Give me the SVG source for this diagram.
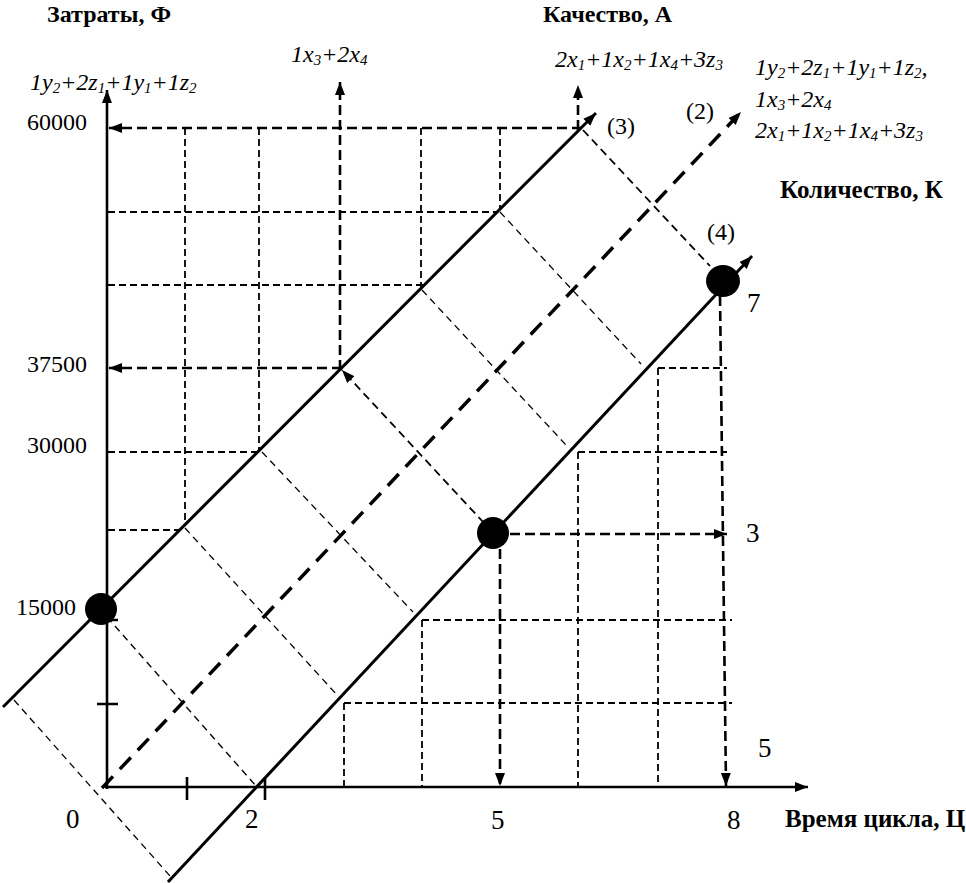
<svg xmlns="http://www.w3.org/2000/svg" width="966" height="883" viewBox="0 0 966 883">
<style>
text{font-family:"Liberation Serif","Times New Roman",serif;fill:#000}
.b{font-weight:bold;font-size:25px}
.bt{font-weight:bold;font-size:24px}
.n{font-size:24px}
.d{font-size:27px}
.p{font-size:24px}
.f{font-style:italic;font-size:24px}
.sub{font-size:15px}
.ax{stroke:#000;stroke-width:2.6;fill:none}
.sol{stroke:#000;stroke-width:3;fill:none}
.g{stroke:#000;stroke-width:1.8;stroke-dasharray:7 4;fill:none}
.t{stroke:#000;stroke-width:2.6;stroke-dasharray:10 5;fill:none}
.pp{stroke:#000;stroke-width:1.3;stroke-dasharray:7 5;fill:none}
.pm{stroke:#000;stroke-width:1.8;stroke-dasharray:8 5;fill:none}
.mid{stroke:#000;stroke-width:3.5;stroke-dasharray:16 10;fill:none}
</style>
<defs>
<marker id="ah" markerUnits="userSpaceOnUse" markerWidth="14" markerHeight="12" refX="13" refY="5" orient="auto">
<path d="M0,0 L13,5 L0,10 z" fill="#000"/>
</marker>
</defs>
<g id="axes">
<path class="ax" d="M107,789 L107,90" marker-end="url(#ah)"/>
<path class="ax" d="M105,787 L808,787" marker-end="url(#ah)"/>
<path class="ax" d="M97,704 H118 M107,620 H118 M187,777 V800 M265,777 V800"/>
</g>
<g id="grid">
<path class="g" d="M185,128 V525 M259,128 V451 M421,128 V289 M500,128 V210 M108,212 H498 M108,285 H425 M108,452 H258 M108,530 H180"/>
<path class="g" d="M658,368 H727 M578,452 H727 M422,620 H732 M344,703 H732 M344,703 V787 M422,620 V787 M578,452 V787 M658,368 V787"/>
<path class="pp" d="M14,700 L170,876 M107,617 L256,786 M185,528 L337,695 M262,452 L413,612 M422,290 L566,445 M500,212 L641,364"/>
</g>
<g id="connectors">
<path class="sol" d="M3,707 L596,113" marker-end="url(#ah)"/>
<path class="sol" d="M168,882 L752,256" marker-end="url(#ah)"/>
<path class="mid" d="M102,788 L741,112" marker-end="url(#ah)"/>
<path class="t" d="M582,128 H109" marker-end="url(#ah)"/>
<path class="t" d="M342,368 H109" marker-end="url(#ah)"/>
<path class="t" d="M340,370 V82" marker-end="url(#ah)"/>
<path class="t" d="M578,130 V85" marker-end="url(#ah)"/>
<path class="pm" d="M583,130 L710,266"/>
<path class="pm" d="M484,523 L342,370" marker-end="url(#ah)"/>
<path class="t" d="M510,534 H727" marker-end="url(#ah)"/>
<path class="t" d="M500,549 V786" marker-end="url(#ah)"/>
<path class="t" d="M720,296 L726,786" marker-end="url(#ah)"/>
</g>
<g id="dot-15000"><ellipse cx="101" cy="609" rx="16" ry="16" fill="#000"/></g>
<g id="dot-5-3"><ellipse cx="493" cy="533" rx="16" ry="16" fill="#000"/></g>
<g id="dot-8-7"><ellipse cx="723" cy="281" rx="17" ry="16" fill="#000"/></g>
<g id="axis-labels">
<text class="bt" x="47" y="22">Затраты, Ф</text>
<text class="bt" x="543" y="22">Качество, А</text>
<text class="b" x="780" y="198">Количество, К</text>
<text class="b" x="785" y="827">Время цикла, Ц</text>
</g>
<g id="values">
<text class="n" x="27" y="130">60000</text>
<text class="n" x="27" y="372">37500</text>
<text class="n" x="27" y="453">30000</text>
<text class="n" x="16" y="615">15000</text>
<text class="d" x="66" y="828">0</text>
<text class="d" x="245" y="828">2</text>
<text class="d" x="491" y="829">5</text>
<text class="d" x="727" y="829">8</text>
<text class="d" x="746" y="542">3</text>
<text class="d" x="747" y="312">7</text>
<text class="d" x="758" y="757">5</text>
<text class="p" x="607" y="134">(3)</text>
<text class="p" x="686" y="119">(2)</text>
<text class="p" x="707" y="240">(4)</text>
</g>
<g id="formulas">
<text class="f" x="30" y="90">1y<tspan class="sub" dy="3">2</tspan><tspan dy="-3">+2z</tspan><tspan class="sub" dy="3">1</tspan><tspan dy="-3">+1y</tspan><tspan class="sub" dy="3">1</tspan><tspan dy="-3">+1z</tspan><tspan class="sub" dy="3">2</tspan></text>
<text class="f" x="291" y="62">1x<tspan class="sub" dy="3">3</tspan><tspan dy="-3">+2x</tspan><tspan class="sub" dy="3">4</tspan></text>
<text class="f" x="555" y="67">2x<tspan class="sub" dy="3">1</tspan><tspan dy="-3">+1x</tspan><tspan class="sub" dy="3">2</tspan><tspan dy="-3">+1x</tspan><tspan class="sub" dy="3">4</tspan><tspan dy="-3">+3z</tspan><tspan class="sub" dy="3">3</tspan></text>
<text class="f" x="755" y="75">1y<tspan class="sub" dy="3">2</tspan><tspan dy="-3">+2z</tspan><tspan class="sub" dy="3">1</tspan><tspan dy="-3">+1y</tspan><tspan class="sub" dy="3">1</tspan><tspan dy="-3">+1z</tspan><tspan class="sub" dy="3">2</tspan><tspan dy="-3">,</tspan></text>
<text class="f" x="755" y="107">1x<tspan class="sub" dy="3">3</tspan><tspan dy="-3">+2x</tspan><tspan class="sub" dy="3">4</tspan></text>
<text class="f" x="755" y="138">2x<tspan class="sub" dy="3">1</tspan><tspan dy="-3">+1x</tspan><tspan class="sub" dy="3">2</tspan><tspan dy="-3">+1x</tspan><tspan class="sub" dy="3">4</tspan><tspan dy="-3">+3z</tspan><tspan class="sub" dy="3">3</tspan></text>
</g>
</svg>
